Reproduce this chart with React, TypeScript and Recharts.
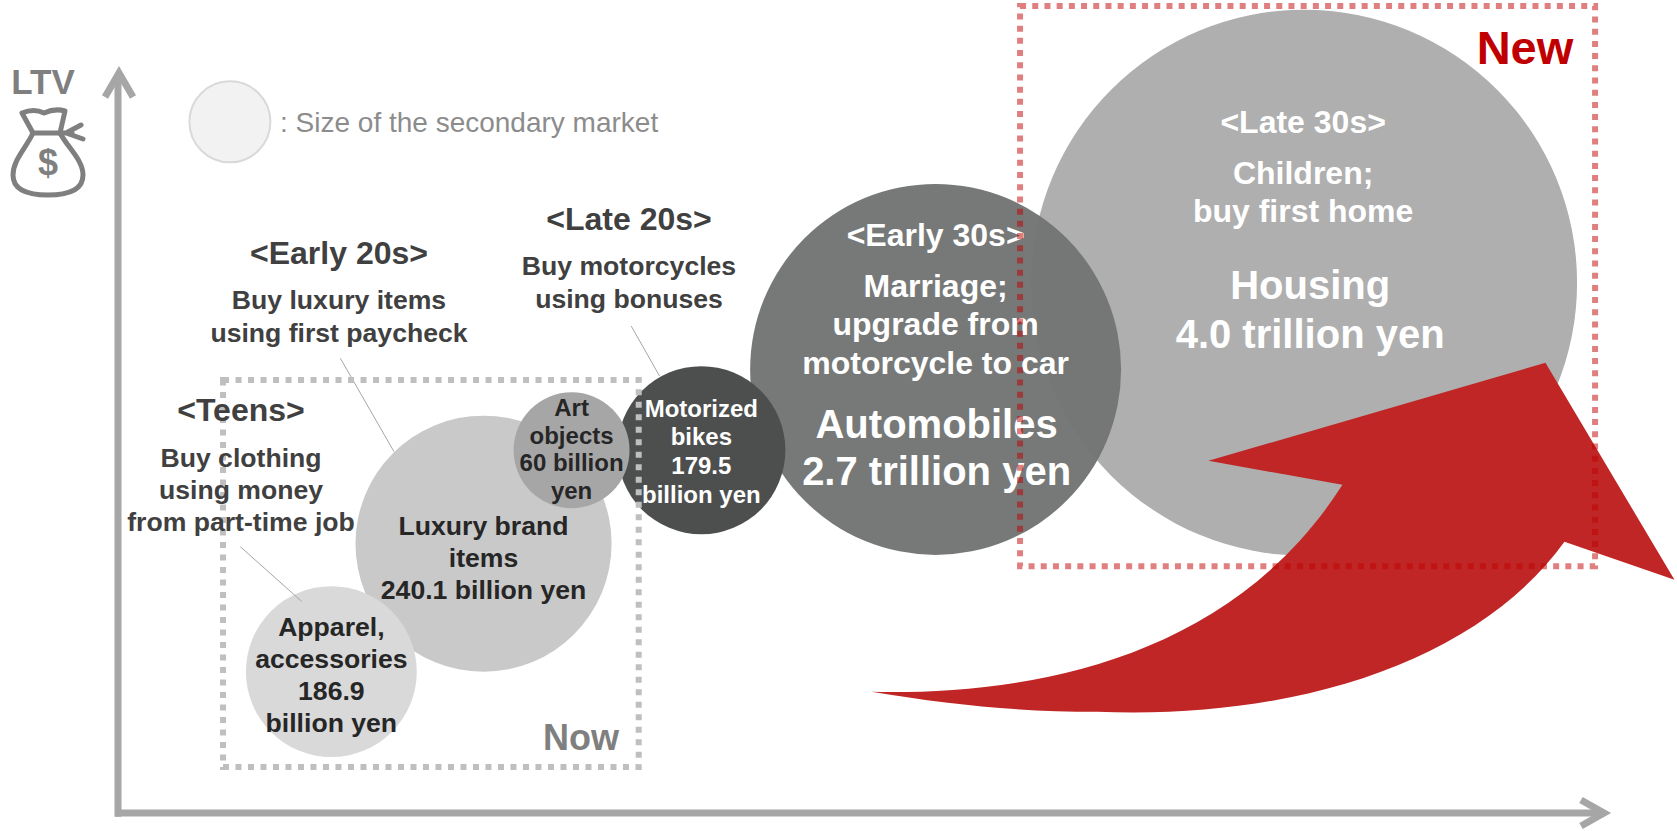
import { ScatterChart, Scatter, XAxis, YAxis, ZAxis, ReferenceArea, ReferenceLine } from 'recharts';

const FONT = '"Liberation Sans", Arial, sans-serif';

// life stage (x) and lifetime value (y) are both on a relative 0-100 scale
const segments = ['Housing', 'Automobiles', 'Motorized bikes', 'Luxury brand items', 'Art objects', 'Apparel, accessories'];
const stagePosition = [79.5, 54.8, 39.1, 24.5, 30.4, 14.3];
const ltvLevel = [70.9, 59.3, 48.5, 36.0, 48.5, 18.9];
const bubbleArea = [745, 344, 70.6, 164, 33.6, 73];
const bubbleColors = ['#afafaf', '#737574', '#4d4f4e', '#c9c9c9', '#a6a6a6', '#d9d9d9'];

const bubbleLines = [
  ['<Late 30s>', 'Children;', 'buy first home', 'Housing', '4.0 trillion yen'],
  ['<Early 30s>', 'Marriage;', 'upgrade from', 'motorcycle to car', 'Automobiles', '2.7 trillion yen'],
  ['Motorized', 'bikes', '179.5', 'billion yen'],
  ['Luxury brand', 'items', '240.1 billion yen'],
  ['Art', 'objects', '60 billion', 'yen'],
  ['Apparel,', 'accessories', '186.9', 'billion yen'],
];
const lineOffsets = [
  [-161, -110, -72, 2, 51],
  [-134.5, -83.5, -45.5, -6, 55, 102],
  [-42, -14, 15, 44],
  [-18, 14, 46],
  [-43, -15, 12, 40],
  [-45, -13, 19, 51],
];
const lineShifts = [
  [-1, -1, -1, 6, 6],
  [0, 0, 0, 0, 1, 1],
  [0, 0, 0, 0],
  [0, 0, 0],
  [0, 0, 0, 0],
  [0, 0, 0, 0],
];
const lineSizes = [
  [32, 32, 32, 40, 40],
  [32, 32, 32, 32, 40, 40],
  [24, 24, 24, 24],
  [26.6, 26.6, 26.6],
  [24, 24, 24, 24],
  [26.6, 26.6, 26.6, 26.6],
];
const lineColors = ['#ffffff', '#ffffff', '#ffffff', '#262626', '#262626', '#262626'];

const bubbles = segments.map((name, i) => ({
  name,
  stage: stagePosition[i],
  ltv: ltvLevel[i],
  area: bubbleArea[i],
  index: i,
}));

const legendBubble = [{ stage: 7.5, ltv: 92.4, area: 16.4 }];
const arrowAnchor = [{ stage: 50.5, ltv: 16.2, area: 1 }];
const captionAnchor = [{ stage: 0, ltv: 0, area: 1 }];

// the axes stop just inside their arrow tips
const axisLines = [
  [{ x: 0, y: -0.5 }, { x: 0, y: 98.2 }],
  [{ x: -0.2, y: 0 }, { x: 99.3, y: 0 }],
];

// thin callouts from the age captions to their bubbles
const leaders = [
  [{ x: 14.9, y: 60.8 }, { x: 18.5, y: 48.3 }],
  [{ x: 34.4, y: 65.1 }, { x: 36.3, y: 58.4 }],
  [{ x: 8.2, y: 35.6 }, { x: 12.3, y: 28.3 }],
];

const captions = [
  { text: '<Early 20s>', x: 339, y: 253, size: 32 },
  { text: 'Buy luxury items', x: 339, y: 300, size: 26.6 },
  { text: 'using first paycheck', x: 339, y: 333, size: 26.6 },
  { text: '<Late 20s>', x: 629, y: 219, size: 32 },
  { text: 'Buy motorcycles', x: 629, y: 266, size: 26.6 },
  { text: 'using bonuses', x: 629, y: 299, size: 26.6 },
  { text: '<Teens>', x: 241, y: 410, size: 32 },
  { text: 'Buy clothing', x: 241, y: 458, size: 26.6 },
  { text: 'using money', x: 241, y: 490, size: 26.6 },
  { text: 'from part-time job', x: 241, y: 522, size: 26.6 },
];

const Bubble = (props: any) => {
  const { cx, cy, width, payload } = props;
  const i = payload.index;
  return (
    <g>
      <circle cx={cx} cy={cy} r={width / 2} fill={bubbleColors[i]} fillOpacity={i === 1 ? 0.97 : 1} />
      {bubbleLines[i].map((line, n) => (
        <text
          key={line}
          x={cx + lineShifts[i][n]}
          y={cy + lineOffsets[i][n]}
          textAnchor="middle"
          dominantBaseline="central"
          fontFamily={FONT}
          fontWeight="bold"
          fontSize={lineSizes[i][n]}
          fill={lineColors[i]}
        >
          {line}
        </text>
      ))}
    </g>
  );
};

const LegendBubble = (props: any) => (
  <circle cx={props.cx} cy={props.cy} r={props.width / 2} fill="#f2f2f2" stroke="#d9d9d9" strokeWidth={2} />
);

// growth arrow sweeping up to the new market, drawn from its tail
const GrowthArrow = (props: any) => (
  <path
    transform={`translate(${props.cx} ${props.cy})`}
    d="M0 0 C138 3 353 -22 471 -207 L337 -231 L674 -329 L803 -112 L693 -150 C608 -32 428 28 226 20 C148 20 78 13 0 0 Z"
    fill="#c02626"
  />
);

const Captions = () => (
  <g fontFamily={FONT} dominantBaseline="central">
    {captions.map((c) => (
      <text key={c.text} x={c.x} y={c.y} textAnchor="middle" fontWeight="bold" fontSize={c.size} fill="#404040">
        {c.text}
      </text>
    ))}
    <text x={581} y={737} textAnchor="middle" fontWeight="bold" fontSize={36} fill="#7f7f7f">
      Now
    </text>
    <text x={1525} y={47} textAnchor="middle" fontWeight="bold" fontSize={47} fill="#c00000">
      New
    </text>
    <text x={43} y={81} textAnchor="middle" fontWeight="bold" fontSize={35} fill="#7f7f7f">
      LTV
    </text>
    <text x={280} y={122} fontSize={28} fill="#8c8c8c">
      : Size of the secondary market
    </text>
  </g>
);

const App = () => {
  return (
    <div style={{ position: 'absolute', left: 0, top: 0 }}>
      <ScatterChart width={1677} height={831} margin={{ top: 65, right: 67, bottom: 17, left: 117 }}>
        <XAxis type="number" dataKey="stage" domain={[0, 100]} height={1} tick={false} tickLine={false} axisLine={false} />
        <YAxis type="number" dataKey="ltv" domain={[0, 100]} width={1} tick={false} tickLine={false} axisLine={false} />
        <ZAxis type="number" dataKey="area" domain={[0, 800]} range={[0, 251327]} />

        {axisLines.map((segment, i) => (
          <ReferenceLine key={i} segment={segment} stroke="#a6a6a6" strokeWidth={7} ifOverflow="visible" />
        ))}

        <Scatter data={legendBubble} shape={LegendBubble} isAnimationActive={false} />
        <Scatter data={bubbles} shape={Bubble} isAnimationActive={false} />
        <Scatter data={arrowAnchor} shape={GrowthArrow} isAnimationActive={false} />

        {leaders.map((segment, i) => (
          <ReferenceLine key={i} segment={segment} stroke="#a6a6a6" strokeWidth={1} ifOverflow="visible" zIndex={650} />
        ))}

        {/* axis arrow heads */}
        <path d="M105 97 L119 73 L133 97" fill="none" stroke="#a6a6a6" strokeWidth={7} strokeLinejoin="miter" />
        <path d="M1581 800 L1604 813 L1581 826" fill="none" stroke="#a6a6a6" strokeWidth={7} strokeLinejoin="miter" />

        {/* money bag next to the LTV label */}
        <g fill="none" stroke="#7f7f7f" strokeWidth={5} strokeLinejoin="round" strokeLinecap="round">
          <path d="M33 133 C26 148 13 160 13 175 C13 190 28 195 48 195 C68 195 83 190 83 175 C83 160 68 148 60 133" />
          <path d="M22 113 Q34 108 44 113 Q55 108 65 111 L60 133 L33 133 Z" />
          <path d="M60 133 L72 133 M66 133 L81 125 M66 133 L83 139" />
        </g>
        <text x={48} y={162} textAnchor="middle" dominantBaseline="central" fontFamily={FONT} fontWeight="bold" fontSize={36} fill="#7f7f7f">
          $
        </text>

        <ReferenceArea
          x1={7.04}
          x2={34.9}
          y1={6.15}
          y2={57.9}
          ifOverflow="visible"
          fill="none"
          stroke="#bfbfbf"
          strokeWidth={6}
          strokeDasharray="6 6.5"
          zIndex={650}
        />
        <ReferenceArea
          x1={60.46}
          x2={99}
          y1={33}
          y2={107.9}
          ifOverflow="visible"
          fill="none"
          stroke="#c00000"
          strokeOpacity={0.5}
          strokeWidth={6}
          strokeDasharray="6 6.2"
          zIndex={650}
        />

        <Scatter data={captionAnchor} shape={Captions} isAnimationActive={false} zIndex={700} />
      </ScatterChart>
    </div>
  );
};

export default App;
